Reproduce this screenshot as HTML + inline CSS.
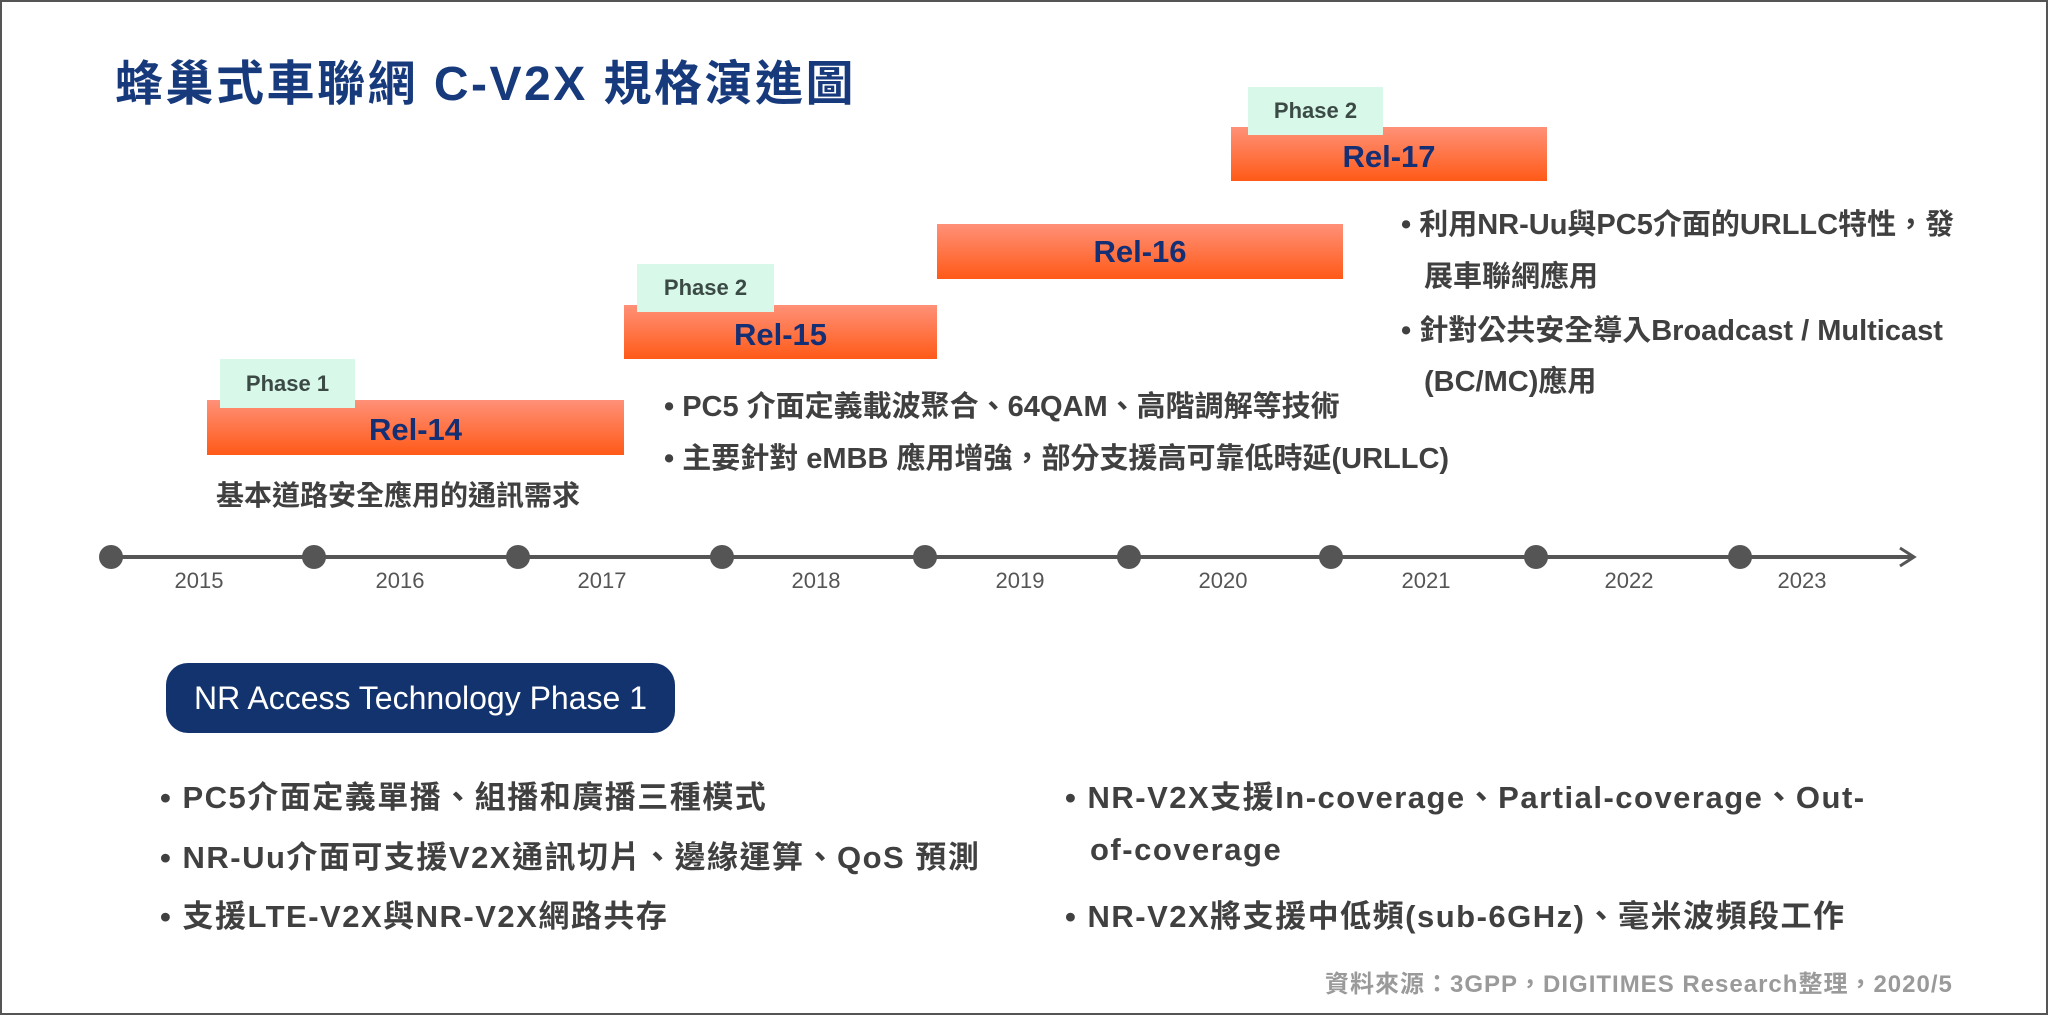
<!DOCTYPE html>
<html><head><meta charset="utf-8"><style>
*{margin:0;padding:0;box-sizing:border-box}
body{width:2048px;height:1015px;background:#fff;position:relative;overflow:hidden;font-family:"Liberation Sans","Noto Sans CJK TC",sans-serif}
.frame{position:absolute;left:0;top:0;width:2048px;height:1015px;border:2px solid #555}
.a{position:absolute;white-space:nowrap}
.title{left:115px;top:44px;font-size:48px;font-weight:bold;color:#173a7c;letter-spacing:2.5px}
.bar{position:absolute;background:linear-gradient(#ff9178,#ff5a17);color:#142f74;font-weight:bold;font-size:31px;text-align:center}
.ph{position:absolute;background:#d8f8ea;color:#3c4a46;font-weight:bold;font-size:22px;text-align:center}
.t{color:#404040;font-weight:bold;font-size:29px}
.yr{position:absolute;top:568px;font-size:22px;color:#555;transform:translateX(-50%)}
.dot{position:absolute;width:24px;height:24px;border-radius:50%;background:#555;top:545px;transform:translateX(-50%)}
.b{color:#404040;font-weight:bold;font-size:31px;letter-spacing:1.5px}
</style></head><body>
<div class="frame"></div>
<div class="a title">蜂巢式車聯網 C-V2X 規格演進圖</div>

<div class="bar" style="left:207px;top:400px;width:417px;height:55px;line-height:60px">Rel-14</div>
<div class="ph" style="left:220px;top:359px;width:135px;height:49px;line-height:49px">Phase 1</div>
<div class="bar" style="left:624px;top:305px;width:313px;height:54px;line-height:60px">Rel-15</div>
<div class="ph" style="left:637px;top:264px;width:137px;height:48px;line-height:48px">Phase 2</div>
<div class="bar" style="left:937px;top:224px;width:406px;height:55px;line-height:55px">Rel-16</div>
<div class="bar" style="left:1231px;top:127px;width:316px;height:54px;line-height:60px">Rel-17</div>
<div class="ph" style="left:1248px;top:87px;width:135px;height:48px;line-height:48px">Phase 2</div>

<div class="a t" style="left:216px;top:474px;font-size:28px">基本道路安全應用的通訊需求</div>
<div class="a t" style="left:664px;top:383px">• PC5 介面定義載波聚合、64QAM、高階調解等技術</div>
<div class="a t" style="left:664px;top:435px">• 主要針對 eMBB 應用增強，部分支援高可靠低時延(URLLC)</div>
<div class="a t" style="left:1401px;top:201px">• 利用NR-Uu與PC5介面的URLLC特性，發</div>
<div class="a t" style="left:1424px;top:253px">展車聯網應用</div>
<div class="a t" style="left:1401px;top:307px">• 針對公共安全導入Broadcast / Multicast</div>
<div class="a t" style="left:1424px;top:358px">(BC/MC)應用</div>

<svg class="a" style="left:0;top:0" width="2048" height="1015">
<line x1="111" y1="557" x2="1912" y2="557" stroke="#555" stroke-width="4"/>
<polyline points="1900,548 1914,557 1900,566" fill="none" stroke="#555" stroke-width="3"/>
</svg>
<div class="dot" style="left:111px"></div><div class="dot" style="left:314px"></div><div class="dot" style="left:518px"></div><div class="dot" style="left:722px"></div><div class="dot" style="left:925px"></div><div class="dot" style="left:1129px"></div><div class="dot" style="left:1331px"></div><div class="dot" style="left:1536px"></div><div class="dot" style="left:1740px"></div>
<div class="yr" style="left:199px">2015</div><div class="yr" style="left:400px">2016</div><div class="yr" style="left:602px">2017</div><div class="yr" style="left:816px">2018</div><div class="yr" style="left:1020px">2019</div><div class="yr" style="left:1223px">2020</div><div class="yr" style="left:1426px">2021</div><div class="yr" style="left:1629px">2022</div><div class="yr" style="left:1802px">2023</div>

<div class="a" style="left:166px;top:663px;width:509px;height:70px;border-radius:22px;background:#13336f;color:#fff;font-size:32px;line-height:70px;text-align:center">NR Access Technology Phase 1</div>

<div class="a b" style="left:160px;top:772px">• PC5介面定義單播、組播和廣播三種模式</div>
<div class="a b" style="left:160px;top:832px">• NR-Uu介面可支援V2X通訊切片、邊緣運算、QoS 預測</div>
<div class="a b" style="left:160px;top:891px">• 支援LTE-V2X與NR-V2X網路共存</div>
<div class="a b" style="left:1065px;top:772px">• NR-V2X支援In-coverage、Partial-coverage、Out-</div>
<div class="a b" style="left:1090px;top:832px">of-coverage</div>
<div class="a b" style="left:1065px;top:891px">• NR-V2X將支援中低頻(sub-6GHz)、毫米波頻段工作</div>

<div class="a" style="left:1325px;top:964px;font-size:24px;color:#9a9a9a;font-weight:bold;letter-spacing:1px">資料來源：3GPP，DIGITIMES Research整理，2020/5</div>
</body></html>
